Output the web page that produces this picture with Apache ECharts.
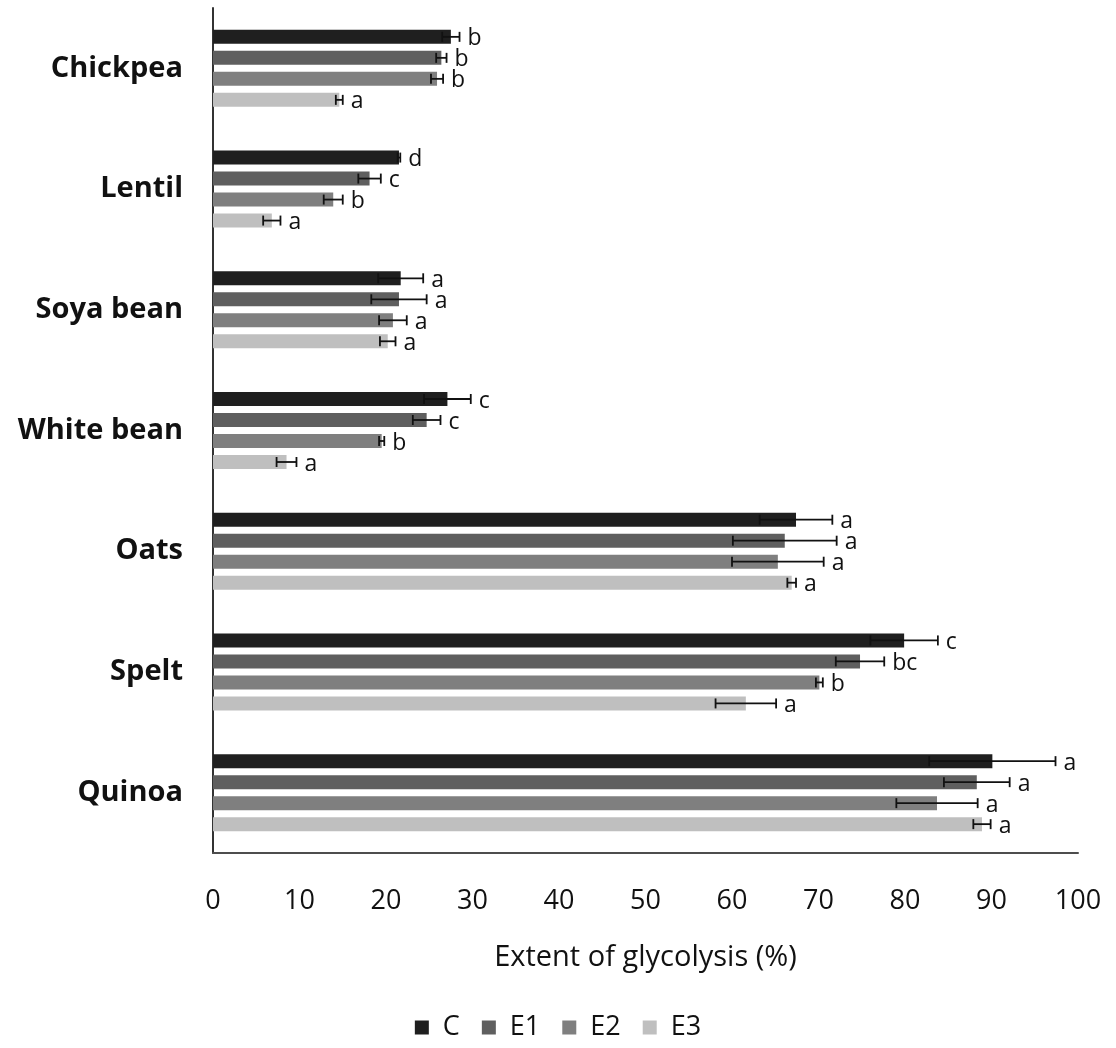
<!DOCTYPE html>
<html>
<head>
<meta charset="utf-8">
<script src="https://cdn.jsdelivr.net/npm/echarts@6/dist/echarts.min.js"></script>
<style>
  html, body { margin: 0; padding: 0; background: #fff; }
  #chart { width: 1116px; height: 1048px; }
</style>
</head>
<body>
<div id="chart"></div>
<script>
// Extent of glycolysis (%) per flour type and treatment
const categories = ['Chickpea', 'Lentil', 'Soya bean', 'White bean', 'Oats', 'Spelt', 'Quinoa'];
const seriesNames = ['C', 'E1', 'E2', 'E3'];

const valuesC  = [27.5, 21.5, 21.7, 27.1, 67.4, 79.9, 90.1];
const valuesE1 = [26.4, 18.1, 21.5, 24.7, 66.1, 74.8, 88.3];
const valuesE2 = [25.9, 13.9, 20.8, 19.5, 65.3, 70.1, 83.7];
const valuesE3 = [14.6,  6.8, 20.2,  8.5, 66.9, 61.6, 88.9];

const errorsC  = [1.0, 0.15, 2.6, 2.7, 4.2, 3.9, 7.3];
const errorsE1 = [0.6, 1.3, 3.2, 1.6, 6.0, 2.8, 3.8];
const errorsE2 = [0.7, 1.1, 1.6, 0.3, 5.3, 0.4, 4.7];
const errorsE3 = [0.4, 1.0, 0.9, 1.15, 0.5, 3.5, 1.0];

const lettersC  = ['b', 'd', 'a', 'c', 'a', 'c', 'a'];
const lettersE1 = ['b', 'c', 'a', 'c', 'a', 'bc', 'a'];
const lettersE2 = ['b', 'b', 'a', 'b', 'a', 'b', 'a'];
const lettersE3 = ['a', 'a', 'a', 'a', 'a', 'a', 'a'];

const allValues = [valuesC, valuesE1, valuesE2, valuesE3];
const allErrors = [errorsC, errorsE1, errorsE2, errorsE3];
const allLetters = [lettersC, lettersE1, lettersE2, lettersE3];
const colors = ['#1f1f1f', '#5f5f5f', '#7f7f7f', '#bfbfbf'];

const BAR_W = 14;
const BAR_STEP = BAR_W * 1.5; // bar width plus 50% gap
const FONT = '"Open Sans", "Noto Sans", sans-serif';

const chart = echarts.init(document.getElementById('chart'), null, { renderer: 'canvas' });

const barSeries = seriesNames.map((name, k) => ({
  name: name,
  type: 'bar',
  data: allValues[k],
  barWidth: BAR_W,
  barGap: '50%',
  itemStyle: { color: colors[k] },
  emphasis: { disabled: true },
  z: 2
}));

// Error bars with significance letters, placed on the same band offsets as the bars
const errorSeries = seriesNames.map((name, k) => ({
  type: 'custom',
  name: name + '-err',
  data: allValues[k].map((v, i) => [v, i]),
  encode: { x: 0, y: 1 },
  z: 5,
  silent: true,
  renderItem: function (params, api) {
    const i = params.dataIndex;
    const mean = api.value(0);
    const cat = api.value(1);
    const err = allErrors[k][i];
    const offset = (k - 1.5) * BAR_STEP;
    const lo = api.coord([mean - err, cat]);
    const hi = api.coord([mean + err, cat]);
    const y = lo[1] + offset;
    const cap = 5;
    const lineStyle = { stroke: '#111', lineWidth: 1.8 };
    return {
      type: 'group',
      children: [
        { type: 'line', shape: { x1: lo[0], y1: y, x2: hi[0], y2: y }, style: lineStyle },
        { type: 'line', shape: { x1: lo[0], y1: y - cap, x2: lo[0], y2: y + cap }, style: lineStyle },
        { type: 'line', shape: { x1: hi[0], y1: y - cap, x2: hi[0], y2: y + cap }, style: lineStyle },
        {
          type: 'text',
          x: hi[0] + 8,
          y: y + 2,
          style: {
            text: allLetters[k][i],
            fill: '#111',
            font: '23px ' + FONT,
            textAlign: 'left',
            textVerticalAlign: 'middle'
          }
        }
      ]
    };
  }
}));

chart.setOption({
  animation: false,
  backgroundColor: '#ffffff',
  grid: { left: 213, right: 38, top: 8, bottom: 195, containLabel: false },
  legend: {
    data: seriesNames,
    bottom: 2,
    left: 'center',
    icon: 'rect',
    itemWidth: 14,
    itemHeight: 14,
    itemGap: 22,
    textStyle: { fontFamily: FONT, fontSize: 27, color: '#111', padding: [0, 0, 0, 9] }
  },
  xAxis: {
    type: 'value',
    min: 0,
    max: 100,
    interval: 10,
    name: 'Extent of glycolysis (%)',
    nameLocation: 'middle',
    nameGap: 90,
    nameTextStyle: { fontFamily: FONT, fontSize: 29, color: '#111', verticalAlign: 'top' },
    axisLine: { show: true, lineStyle: { color: '#4d4d4d', width: 2 } },
    axisTick: { show: false },
    splitLine: { show: false },
    axisLabel: { fontFamily: FONT, fontSize: 27, color: '#111', margin: 35 }
  },
  yAxis: {
    type: 'category',
    data: categories,
    inverse: true,
    axisLine: { show: true, lineStyle: { color: '#333', width: 2 } },
    axisTick: { show: false },
    splitLine: { show: false },
    axisLabel: { fontFamily: FONT, fontSize: 29, fontWeight: 'bold', color: '#111', margin: 30 }
  },
  series: barSeries.concat(errorSeries)
});
</script>
</body>
</html>
